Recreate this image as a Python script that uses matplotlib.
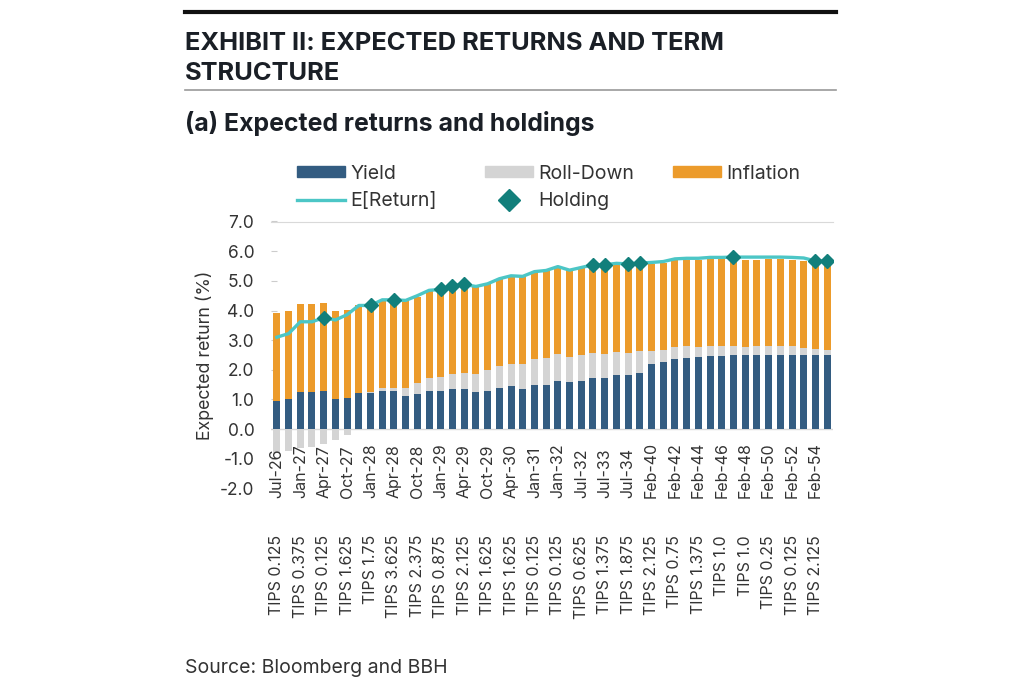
import matplotlib
matplotlib.use('Agg')
import matplotlib.pyplot as plt
from matplotlib.lines import Line2D
from matplotlib.patches import Patch
from matplotlib.transforms import blended_transform_factory
import numpy as np

plt.rcParams['font.family'] = ['Inter', 'DejaVu Sans']

# bond labels (only every other bond is labelled on the axis)
dates = ['Jul-26', '', 'Jan-27', '', 'Apr-27', '', 'Oct-27', '', 'Jan-28', '', 'Apr-28', '',
         'Oct-28', '', 'Jan-29', '', 'Apr-29', '', 'Oct-29', '', 'Apr-30', '', 'Jan-31', '',
         'Jan-32', '', 'Jul-32', '', 'Jul-33', '', 'Jul-34', '', 'Feb-40', '', 'Feb-42', '',
         'Feb-44', '', 'Feb-46', '', 'Feb-48', '', 'Feb-50', '', 'Feb-52', '', 'Feb-54', '']
coupons = ['TIPS 0.125', '', 'TIPS 0.375', '', 'TIPS 0.125', '', 'TIPS 1.625', '', 'TIPS 1.75', '',
           'TIPS 3.625', '', 'TIPS 2.375', '', 'TIPS 0.875', '', 'TIPS 2.125', '', 'TIPS 1.625', '',
           'TIPS 1.625', '', 'TIPS 0.125', '', 'TIPS 0.125', '', 'TIPS 0.625', '', 'TIPS 1.375', '',
           'TIPS 1.875', '', 'TIPS 2.125', '', 'TIPS 0.75', '', 'TIPS 1.375', '', 'TIPS 1.0', '',
           'TIPS 1.0', '', 'TIPS 0.25', '', 'TIPS 0.125', '', 'TIPS 2.125', '']

yld = [0.94, 1.00, 1.25, 1.25, 1.28, 1.02, 1.04, 1.21, 1.21, 1.28, 1.28, 1.13,
       1.19, 1.30, 1.30, 1.35, 1.37, 1.24, 1.29, 1.38, 1.44, 1.35, 1.49, 1.49,
       1.61, 1.58, 1.61, 1.72, 1.73, 1.83, 1.84, 1.91, 2.19, 2.26, 2.35, 2.40,
       2.43, 2.46, 2.47, 2.49, 2.49, 2.51, 2.51, 2.51, 2.51, 2.51, 2.50, 2.50]
roll = [-0.81, -0.74, -0.63, -0.61, -0.49, -0.35, -0.18, -0.02, 0.04, 0.12, 0.10, 0.25,
        0.35, 0.44, 0.46, 0.52, 0.53, 0.63, 0.69, 0.75, 0.77, 0.83, 0.87, 0.90,
        0.91, 0.84, 0.88, 0.86, 0.82, 0.78, 0.74, 0.71, 0.45, 0.41, 0.43, 0.39,
        0.33, 0.35, 0.33, 0.32, 0.29, 0.28, 0.30, 0.30, 0.28, 0.22, 0.20, 0.17]
infl = [2.97, 2.98, 2.97, 2.96, 2.98, 2.98, 2.99, 2.98, 2.92, 2.94, 2.99, 2.96,
        2.93, 2.93, 2.94, 2.92, 2.94, 2.94, 2.92, 2.94, 2.96, 2.97, 2.95, 2.96,
        2.92, 2.93, 2.94, 2.94, 2.94, 2.94, 2.95, 2.93, 2.93, 2.93, 2.93, 2.92,
        2.95, 2.92, 2.93, 2.93, 2.93, 2.92, 2.91, 2.91, 2.92, 2.94, 2.95, 2.95]
exp_ret = [3.10, 3.22, 3.62, 3.62, 3.76, 3.68, 3.86, 4.17, 4.17, 4.36, 4.36, 4.34,
           4.50, 4.68, 4.71, 4.84, 4.88, 4.81, 4.90, 5.07, 5.17, 5.15, 5.31, 5.35,
           5.48, 5.36, 5.45, 5.54, 5.54, 5.59, 5.57, 5.60, 5.62, 5.65, 5.74, 5.76,
           5.76, 5.79, 5.79, 5.80, 5.80, 5.80, 5.80, 5.80, 5.79, 5.77, 5.67, 5.67]
held = [4, 8, 10, 14, 15, 16, 27, 28, 30, 31, 39, 46, 47]

c_yld = '#335c81'
c_roll = '#d4d4d4'
c_infl = '#ec9b2b'
c_line = '#4cc6c6'
c_hold = '#127f7b'
c_text = '#333333'

W, H = 1024, 697
fig = plt.figure(figsize=(W / 100, H / 100), dpi=100)
ax = fig.add_axes([271 / W, 1 - 488.5 / H, 562 / W, 267 / H])

x = np.arange(len(yld))
yld = np.array(yld)
roll = np.array(roll)
infl = np.array(infl)
pos_roll = np.clip(roll, 0, None)
neg_roll = np.clip(roll, None, 0)

ax.bar(x, yld, 0.6, color=c_yld, zorder=2)
ax.bar(x, pos_roll, 0.6, bottom=yld, color=c_roll, zorder=2)
ax.bar(x, neg_roll, 0.6, color=c_roll, zorder=2)
ax.bar(x, infl, 0.6, bottom=yld + pos_roll, color=c_infl, zorder=2)
ax.plot(x, exp_ret, color=c_line, lw=2.4, zorder=3)
ax.plot(x[held], np.array(exp_ret)[held], 'D', ms=7.2, color=c_hold, zorder=4, lw=0)

ax.set_xlim(-0.5, len(x) - 0.5)
ax.set_ylim(-2, 7)
ax.set_yticks(np.arange(-2, 8, 1))
ax.set_yticklabels(['%.1f' % v for v in np.arange(-2, 8, 1)], fontsize=12.5, color=c_text)
ax.tick_params(axis='y', direction='in', length=4, color='#cccccc', pad=12)
ax.set_xticks([])
for s in ['left', 'right', 'bottom']:
    ax.spines[s].set_visible(False)
ax.spines['top'].set_color('#d9d9d9')
ax.axhline(0, color='#d9d9d9', lw=1, zorder=1)
ax.set_ylabel('Expected return (%)', fontsize=12.8, color=c_text)
ax.yaxis.set_label_coords((214 - 271) / 562, 0.5)

tr = blended_transform_factory(ax.transData, fig.transFigure)
for i in x:
    if dates[i]:
        ax.text(i, 1 - 498 / H, dates[i], rotation=90, ha='center', va='bottom',
                fontsize=11.5, color=c_text, transform=tr)
        ax.text(i, 1 - 535 / H, coupons[i], rotation=90, ha='center', va='top',
                fontsize=11.5, color=c_text, transform=tr)

# legend, built as three columns placed where the reference has them
fs = 14
leg_kw = dict(frameon=False, fontsize=fs, handlelength=2.47, handleheight=0.52,
              handletextpad=0.26, labelspacing=0.5, borderpad=0, borderaxespad=0,
              labelcolor=c_text)
blank = Line2D([], [], alpha=0)
cols = [([Patch(color=c_yld), Line2D([], [], color=c_line, lw=2.4)], ['Yield', 'E[Return]'], 297),
        ([Patch(color=c_roll), Line2D([], [], ls='', marker='D', ms=10.7, color=c_hold)],
         ['Roll-Down', 'Holding'], 485),
        ([Patch(color=c_infl), blank], ['Inflation', ' '], 673)]
for hs, ls, px in cols:
    fig.legend(hs, ls, loc='center left', bbox_to_anchor=(px / W, 1 - 187.5 / H), **leg_kw)

# header and footer
fig.add_artist(Line2D([185 / W, 836 / W], [1 - 12 / H] * 2, color='#111111', lw=3))
fig.add_artist(Line2D([185 / W, 836 / W], [1 - 89.5 / H] * 2, color='#999999', lw=1.2))
fig.text(185 / W, 1 - 50 / H, 'EXHIBIT II: EXPECTED RETURNS AND TERM',
         fontsize=18.35, fontweight='bold', color='#1a1f26', va='baseline', ha='left')
fig.text(185 / W, 1 - 80 / H, 'STRUCTURE',
         fontsize=18.35, fontweight='bold', color='#1a1f26', va='baseline', ha='left')
fig.text(185 / W, 1 - 131 / H, '(a) Expected returns and holdings',
         fontsize=17.9, fontweight='bold', color='#1a1f26', va='baseline', ha='left')
fig.text(185 / W, 1 - 673 / H, 'Source: Bloomberg and BBH',
         fontsize=14, color=c_text, va='baseline', ha='left')

fig.savefig('out.png', dpi=100)
